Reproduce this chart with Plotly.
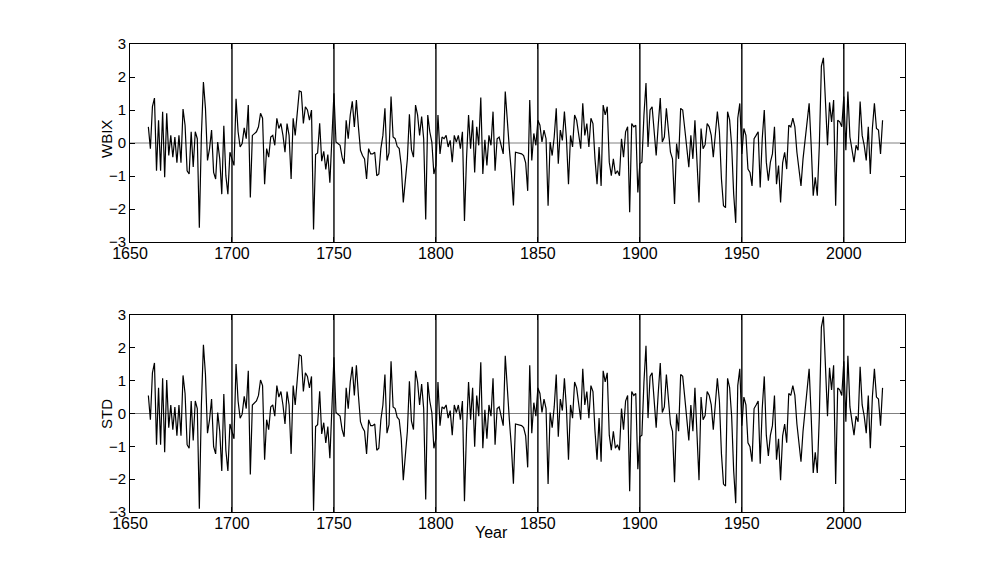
import plotly.graph_objects as go

# ---------------- data ----------------
first_year = 1659
wbix = [
    0.49,
    -0.17, 1.10, 1.36, -0.84, 0.69, -0.84, 0.95, -1.04, 0.90, -0.38,   # 1660s
    0.23, -0.43, 0.18, -0.60, 0.23, -0.60, 1.03, 0.54, -0.84, -0.94,   # 1670s
    0.34, -0.73, 0.34, 0.13, -2.57, 0.23, 1.85, 1.05, -0.53, -0.17,    # 1680s
    0.39, -0.89, -1.09, 0.03, -0.48, -1.55, 0.52, -0.99, -1.55, -0.28, # 1690s
    -0.48, -0.68, 1.34, 0.34, -0.12, -0.02, 0.46, 0.13, 1.15, -1.65,   # 1700s
    0.23, 0.29, 0.34, 0.49, 0.90, 0.75, -1.25, -0.17, -0.43, 0.18,     # 1710s
    0.23, -0.07, 0.75, 0.44, 0.59, 0.23, -0.28, 0.59, 0.23, -1.09,     # 1720s
    0.75, 0.23, 1.05, 1.58, 1.55, 0.59, 1.10, 1.00, 0.69, 1.00,        # 1730s
    -2.62, -0.35, -0.30, 0.60, -0.55, -0.25, -0.80, -0.35, -1.20, 0.45, # 1740s
    1.51, 0.03, -0.02, -0.07, -0.43, -0.63, 0.69, 0.13, 0.85, 1.26,    # 1750s
    0.49, 1.30, 0.49, -0.22, -0.38, -0.48, -1.09, -0.17, -0.33, -0.33, # 1760s
    -0.28, -0.99, -0.94, -0.17, 0.23, 1.05, -0.53, -0.30, 1.41, 0.18,  # 1770s
    0.13, -0.10, -0.17, -0.68, -1.80, -1.09, -0.48, 0.87, -0.20, -0.43, # 1780s
    1.15, 0.85, 0.23, 0.80, 0.13, -2.32, 0.85, 0.34, 0.03, -0.94,      # 1790s
    -0.68, 0.85, -0.33, 0.18, 0.13, 0.23, -0.12, 0.08, -0.58, 0.23,    # 1800s
    0.03, 0.23, -0.17, 0.34, -2.36, -0.48, 0.85, -0.17, 0.69, -0.89,   # 1810s
    0.49, -0.07, 1.38, -0.94, 0.10, -0.68, 0.23, -0.07, 0.95, -0.84,   # 1820s
    0.13, 0.18, -0.12, -0.33, 1.56, 0.54, -0.17, -0.89, -1.89, -0.28,  # 1830s
    -0.30, -0.33, -0.33, -0.38, -0.60, -1.45, 1.30, -0.53, 0.29, -0.07, # 1840s
    0.69, 0.54, 0.03, 0.39, 0.13, -1.90, 0.03, -0.38, 0.18, 1.05,      # 1850s
    -0.63, 0.39, 0.08, 0.95, 0.13, -1.25, 0.23, -0.12, 0.85, 0.69,     # 1860s
    0.23, -0.17, 1.20, 0.23, 0.59, -0.12, 0.75, 0.59, -0.48, -1.25,    # 1870s
    -0.12, -1.30, 1.15, 0.85, 1.10, -0.58, -0.99, -0.48, -0.94, -0.84, # 1880s
    -0.99, 0.13, -0.43, 0.34, 0.49, -2.10, 0.59, 0.49, 0.54, -1.50,    # 1890s
    -0.63, -0.58, 0.85, 1.82, -0.12, 1.00, 1.10, 0.44, -0.38, 0.54,    # 1900s
    1.36, 0.03, 0.18, 1.05, 0.44, -0.28, -0.48, -1.85, -0.02, -0.48,   # 1910s
    1.05, 1.00, 0.44, -0.17, -0.73, 0.23, -0.48, 0.69, -0.68, -1.80,   # 1920s
    0.44, -0.17, -0.05, 0.59, 0.49, 0.23, -0.43, 0.23, 0.95, 0.34,     # 1930s
    -1.09, -1.90, -1.96, 0.95, 0.70, -0.07, -1.55, -2.42, 0.75, 1.20,  # 1940s
    -0.33, 0.44, 0.23, -0.79, -0.89, -1.30, 0.13, 0.23, 0.34, -1.35,   # 1950s
    0.13, 1.00, -0.58, -1.14, -0.58, -0.33, 0.49, -1.25, -0.68, -1.80, # 1960s
    -0.60, -0.28, -0.79, 0.54, 0.49, 0.75, 0.49, -0.28, -0.73, -1.30,  # 1970s
    -0.48, 0.13, 0.54, 1.20, -0.07, -1.60, -1.04, -1.60, -0.07, 2.33,  # 1980s
    2.58, 1.36, -0.07, 1.23, 0.64, 1.30, -1.90, 0.69, 0.64, 0.49,      # 1990s
    1.41, -0.22, 1.56, 0.18, -0.17, -0.58, -0.07, -0.22, 1.26, 0.23,   # 2000s
    -0.07, -0.53, 0.49, -0.94, 0.44, 1.20, 0.44, 0.39, -0.33, 0.69,    # 2010s
]
std = [
    0.55,
    -0.19, 1.24, 1.54, -0.95, 0.78, -0.95, 1.07, -1.18, 1.02, -0.43,
    0.26, -0.49, 0.20, -0.68, 0.26, -0.68, 1.16, 0.61, -0.95, -1.06,
    0.38, -0.82, 0.38, 0.15, -2.90, 0.26, 2.09, 1.19, -0.60, -0.19,
    0.44, -1.01, -1.23, 0.03, -0.54, -1.75, 0.59, -1.12, -1.75, -0.32,
    -0.54, -0.77, 1.51, 0.38, -0.14, -0.02, 0.52, 0.15, 1.30, -1.86,
    0.26, 0.33, 0.38, 0.55, 1.02, 0.85, -1.41, -0.19, -0.49, 0.20,
    0.26, -0.08, 0.85, 0.50, 0.67, 0.26, -0.32, 0.67, 0.26, -1.23,
    0.85, 0.26, 1.19, 1.79, 1.75, 0.67, 1.24, 1.13, 0.78, 1.13,
    -2.96, -0.40, -0.34, 0.68, -0.62, -0.28, -0.90, -0.40, -1.36, 0.51,
    1.71, 0.03, -0.02, -0.08, -0.49, -0.71, 0.78, 0.15, 0.96, 1.42,
    0.55, 1.47, 0.55, -0.25, -0.43, -0.54, -1.23, -0.19, -0.37, -0.37,
    -0.32, -1.12, -1.06, -0.19, 0.26, 1.19, -0.60, -0.34, 1.59, 0.20,
    0.15, -0.11, -0.19, -0.77, -2.03, -1.23, -0.54, 0.98, -0.23, -0.49,
    1.30, 0.96, 0.26, 0.90, 0.15, -2.62, 0.96, 0.38, 0.03, -1.06,
    -0.77, 0.96, -0.37, 0.20, 0.15, 0.26, -0.14, 0.09, -0.66, 0.26,
    0.03, 0.26, -0.19, 0.38, -2.67, -0.54, 0.96, -0.19, 0.78, -1.01,
    0.55, -0.08, 1.56, -1.06, 0.11, -0.77, 0.26, -0.08, 1.07, -0.95,
    0.15, 0.20, -0.14, -0.37, 1.76, 0.61, -0.19, -1.01, -2.14, -0.32,
    -0.34, -0.37, -0.37, -0.43, -0.68, -1.64, 1.47, -0.60, 0.33, -0.08,
    0.78, 0.61, 0.03, 0.44, 0.15, -2.15, 0.03, -0.43, 0.20, 1.19,
    -0.71, 0.44, 0.09, 1.07, 0.15, -1.41, 0.26, -0.14, 0.96, 0.78,
    0.26, -0.19, 1.36, 0.26, 0.67, -0.14, 0.85, 0.67, -0.54, -1.41,
    -0.14, -1.47, 1.30, 0.96, 1.24, -0.66, -1.12, -0.54, -1.06, -0.95,
    -1.12, 0.15, -0.49, 0.38, 0.55, -2.37, 0.67, 0.55, 0.61, -1.70,
    -0.71, -0.66, 0.96, 2.06, -0.14, 1.13, 1.24, 0.50, -0.43, 0.61,
    1.54, 0.03, 0.20, 1.19, 0.50, -0.32, -0.54, -2.09, -0.02, -0.54,
    1.19, 1.13, 0.50, -0.19, -0.82, 0.26, -0.54, 0.78, -0.77, -2.03,
    0.50, -0.19, -0.06, 0.67, 0.55, 0.26, -0.49, 0.26, 1.07, 0.38,
    -1.23, -2.15, -2.21, 1.07, 0.79, -0.08, -1.75, -2.73, 0.85, 1.36,
    -0.37, 0.50, 0.26, -0.89, -1.01, -1.47, 0.15, 0.26, 0.38, -1.53,
    0.15, 1.13, -0.66, -1.29, -0.66, -0.37, 0.55, -1.41, -0.77, -2.03,
    -0.68, -0.32, -0.89, 0.61, 0.55, 0.85, 0.55, -0.32, -0.82, -1.47,
    -0.54, 0.15, 0.61, 1.36, -0.08, -1.81, -1.18, -1.81, -0.08, 2.63,
    2.95, 1.54, -0.08, 1.39, 0.72, 1.47, -2.15, 0.78, 0.72, 0.55,
    1.59, -0.25, 1.76, 0.20, -0.19, -0.66, -0.08, -0.25, 1.42, 0.26,
    -0.08, -0.60, 0.55, -1.06, 0.50, 1.36, 0.50, 0.44, -0.37, 0.78,
]
years = list(range(first_year, first_year + len(wbix)))
marker_years = [1700, 1750, 1800, 1850, 1900, 1950, 2000]
x_ticks = [1650, 1700, 1750, 1800, 1850, 1900, 1950, 2000]
y_ticks = [-3, -2, -1, 0, 1, 2, 3]
x_range = [1650, 2030]
y_range = [-3, 3]

FONT = "Liberation Sans, Arial, sans-serif"
W, H = 1000, 577
OFF = 8  # page body margin offset of the figure in the browser


def px(x):
    return (x - OFF) / W


def py(y):
    return 1 - (y - OFF) / H


fig = go.Figure()

panels = [("x", "y", wbix), ("x2", "y2", std)]
for xa, ya, vals in panels:
    # zero reference line
    fig.add_trace(go.Scatter(x=x_range, y=[0, 0], xaxis=xa, yaxis=ya, mode="lines",
                             line=dict(color="#808080", width=1), showlegend=False,
                             hoverinfo="skip"))
    # vertical marker lines
    vx, vy = [], []
    for yr in marker_years:
        vx += [yr, yr, None]
        vy += [y_range[0], y_range[1], None]
    fig.add_trace(go.Scatter(x=vx, y=vy, xaxis=xa, yaxis=ya, mode="lines",
                             line=dict(color="black", width=1.4), showlegend=False,
                             hoverinfo="skip"))
    # the series
    fig.add_trace(go.Scatter(x=years, y=vals, xaxis=xa, yaxis=ya, mode="lines",
                             line=dict(color="black", width=1.2), showlegend=False))

axis_common = dict(showgrid=False, zeroline=False, showline=True, linecolor="black",
                   linewidth=1, mirror="ticks", ticks="inside", ticklen=5,
                   tickcolor="black", automargin=False)
xfont = dict(family=FONT, size=16, color="black")
yfont = dict(family=FONT, size=15, color="black")

fig.update_layout(
    template="none",
    width=W, height=H,
    paper_bgcolor="white", plot_bgcolor="white",
    margin=dict(l=0, r=0, t=0, b=0, pad=0, autoexpand=False),
    xaxis=dict(domain=[px(130), px(905)], anchor="y", range=x_range, tickvals=x_ticks,
               tickfont=xfont, ticklabelstandoff=-3, **axis_common),
    yaxis=dict(domain=[py(242), py(44)], anchor="x", range=y_range, tickvals=y_ticks,
               tickfont=yfont, **axis_common),
    xaxis2=dict(domain=[px(130), px(905)], anchor="y2", range=x_range, tickvals=x_ticks,
                tickfont=xfont, ticklabelstandoff=-3, **axis_common),
    yaxis2=dict(domain=[py(512), py(315)], anchor="x2", range=y_range, tickvals=y_ticks,
                tickfont=yfont, **axis_common),
    annotations=[
        dict(text="WBIX", x=px(107), y=py(139), xref="paper", yref="paper",
             xanchor="center", yanchor="middle",
             textangle=-90, showarrow=False, font=dict(family=FONT, size=15, color="black")),
        dict(text="STD", x=px(107), y=py(414), xref="paper", yref="paper",
             xanchor="center", yanchor="middle",
             textangle=-90, showarrow=False, font=dict(family=FONT, size=15, color="black")),
        dict(text="Year", x=px(491), y=py(532), xref="paper", yref="paper",
             xanchor="center", yanchor="middle",
             showarrow=False, font=dict(family=FONT, size=16, color="black")),
    ],
)

fig.write_html("out.html")
